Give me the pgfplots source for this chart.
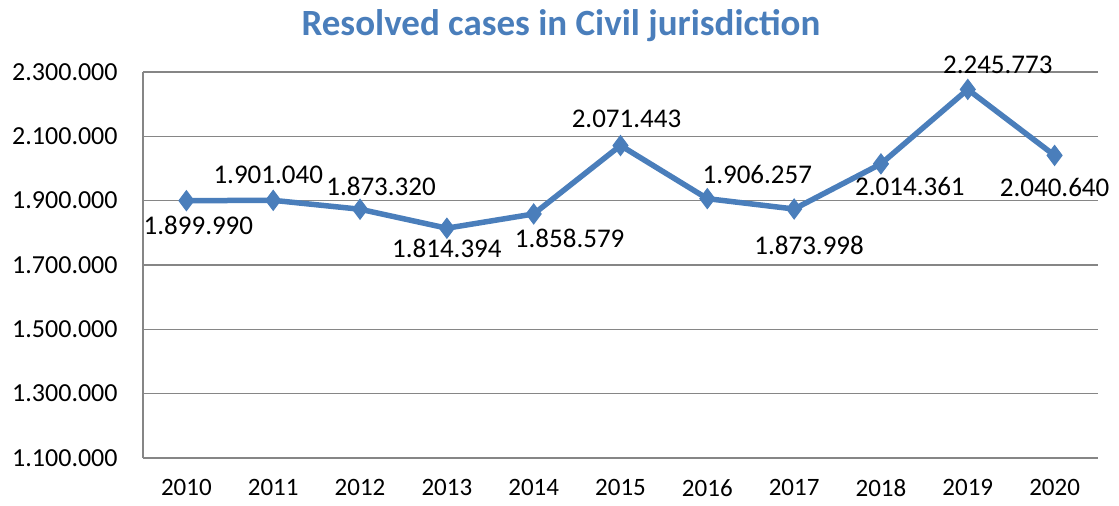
\documentclass[border=0pt]{standalone}
\usepackage{fontspec}
\setmainfont{Carlito}
\usepackage{pgfplots}
\pgfplotsset{compat=1.18}
\usepackage{pgfplotstable}

\definecolor{xlblue}{RGB}{74,126,187}
\definecolor{xlgrid}{RGB}{134,134,134}

\pgfplotstableread{
x y label dx dy
0 1899990 1.899.990 6 -12.5
1 1901040 1.901.040 -2.5 12.5
2 1873320 1.873.320 10.5 11.5
3 1814394 1.814.394 0 -10
4 1858579 1.858.579 18 -12
5 2071443 2.071.443 3 13.5
6 1906257 1.906.257 25 12
7 1873998 1.873.998 7.5 -18
8 2014361 2.014.361 14.5 -11.5
9 2245773 2.245.773 15 12.5
10 2040640 2.040.640 0 -16
}\resolved

\begin{document}
\begin{tikzpicture}
\path[use as bounding box] (0,0) rectangle (559.5pt,253pt);
\begin{axis}[
  at={(71.5pt,24pt)}, anchor=south west,
  scale only axis, width=477.5pt, height=193pt,
  xmin=-0.5, xmax=10.5, ymin=1100000, ymax=2300000,
  xtick={0,...,10},
  xticklabels={2010,2011,2012,2013,2014,2015,2016,2017,2018,2019,2020},
  ytick={1100000,1300000,1500000,1700000,1900000,2100000,2300000},
  yticklabels={1.100.000,1.300.000,1.500.000,1.700.000,1.900.000,2.100.000,2.300.000},
  scaled y ticks=false,
  major tick length=0pt,
  axis x line*=bottom,
  x axis line style={draw=none},
  axis y line*=left,
  y axis line style={xlgrid, line width=0.75pt, -},
  ymajorgrids, grid style={xlgrid, line width=0.75pt},
  yticklabel style={font=\fontsize{13}{15}\selectfont, anchor=east, inner sep=0pt, xshift=-12.5pt},
  xticklabel style={font=\fontsize{12.5}{15}\selectfont, anchor=north, inner sep=0pt, yshift=-10.5pt},
  title={Resolved cases in Civil jurisdiction},
  title style={at={(0.4377,1)}, anchor=center, yshift=17pt,
    font=\fontsize{18.5}{22}\selectfont\bfseries, text=xlblue},
  clip=false,
]
\addplot[xlblue, line width=2.75pt, mark=diamond*, mark size=5pt,
  mark options={solid, fill=xlblue, line width=0.5pt},
  point meta=explicit symbolic,
  visualization depends on={\thisrow{dx}\as\dx},
  visualization depends on={\thisrow{dy}\as\dy},
  nodes near coords,
  nodes near coords style={anchor=center, xshift=\dx pt, yshift=\dy pt,
    font=\fontsize{13.5}{16}\selectfont, text=black, inner sep=0pt},
] table[x=x, y=y, meta=label] {\resolved};
\end{axis}
\end{tikzpicture}
\end{document}
